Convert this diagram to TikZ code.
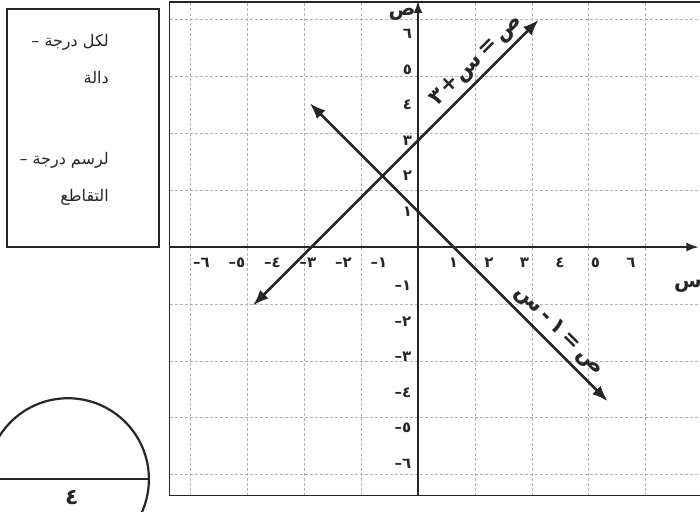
\documentclass[tikz,border=0pt]{standalone}
\usepackage{fontspec}
\usetikzlibrary{arrows.meta}
\newfontfamily\arabicfont[Script=Arabic]{DejaVu Sans}
\TeXXeTstate=1
\tikzset{
  gridline/.style={
    draw = black!30,
    line width = 0.3pt,
    dash pattern = on 1.5pt off 1pt
  },
  frame/.style={
    draw = black!85,
    line width = 0.9pt
  },
  axis/.style={
    draw = black!85,
    line width = 1.1pt,
    -{Latex[length=6pt,width=4.5pt]}
  },
  graphline/.style={
    draw = black!85,
    line width = 1.4pt,
    {Latex[length=8pt,width=6pt]}-{Latex[length=8pt,width=6pt]}
  },
  tick/.style={
    font = \arabicfont\bfseries\fontsize{7.5}{8}\selectfont,
    text = black!85,
    inner sep = 0pt
  },
  axlabel/.style={
    font = \arabicfont\bfseries\fontsize{10}{11}\selectfont,
    text = black!85,
    inner sep = 0pt
  },
  eqn/.style={
    font = \arabicfont\bfseries\fontsize{11}{12}\selectfont,
    text = black!85,
    sloped,
    above,
    inner sep = 2pt
  },
  boxtext/.style={
    font = \arabicfont\fontsize{8}{9}\selectfont,
    text = black!85,
    anchor = east,
    inner sep = 0pt
  },
  score/.style={
    font = \arabicfont\bfseries\fontsize{11}{12}\selectfont,
    text = black!85,
    inner sep = 0pt
  },
}

\begin{document}
\begin{tikzpicture}[x=17.75pt,y=17.75pt]
\clip (-11.775,-7.437) rectangle (7.944,6.958);
\draw[gridline] (-7,-7) grid (8,6.9);
\draw[frame] (8.5,6.9) -- (-7,6.9) -- (-7,-7) -- (8.5,-7);
\coordinate (xs) at (-7,0);
\coordinate (xe) at (7.9,0);
\coordinate (ys) at (0,-7);
\coordinate (ye) at (0,6.93);
\draw[axis] (xs) -- (xe);
\draw[axis] (ys) -- (ye);
\node[axlabel] (xlab) at (7.6,-1.1) {س};
\node[axlabel] (ylab) at (-0.45,6.55) {ص};
\foreach \n [count=\i] in {١,٢,٣,٤,٥,٦}{
  \node[tick] (xp\i) at (\i,-0.45) {\n};
  \node[tick] (xn\i) at (-\i-0.1,-0.45) {{\n}–};
  \node[tick] (yp\i) at (-0.3,\i) {\n};
  \node[tick, anchor=east] (yn\i) at (-0.18,-\i-0.1) {{\n}–};
}
\coordinate (a1) at (-4.65,-1.65);
\coordinate (a2) at (3.4,6.4);
\coordinate (b1) at (-3.05,4.05);
\coordinate (b2) at (5.35,-4.35);
\draw[graphline] (a1) -- node[eqn, pos=0.82] (eqa) {٣\kern0.5pt+\kern0.5pt س\kern2pt=\kern2pt ص} (a2);
\draw[graphline] (b1) -- node[eqn, pos=0.8] (eqb) {س\kern2pt-\kern2pt ١\kern2pt=\kern2pt ص} (b2);
\draw[frame] (-11.58,0) rectangle (-7.3,6.7);
\node[boxtext] (m1) at (-8.7,5.77) {\beginR لكل درجة –\endR};
\node[boxtext] (m2) at (-8.7,4.76) {\beginR دالة\endR};
\node[boxtext] (m3) at (-8.7,2.45) {\beginR لرسم درجة –\endR};
\node[boxtext] (m4) at (-8.7,1.41) {\beginR التقاطع\endR};
\coordinate (c) at (-9.86,-6.54);
\draw[frame, line width=1.1pt] (c) circle (2.28);
\draw[frame] (-12.2,-6.54) -- (-7.58,-6.54);
\node[score] (grade) at (-9.75,-7.05) {٤};
\end{tikzpicture}
\end{document}
